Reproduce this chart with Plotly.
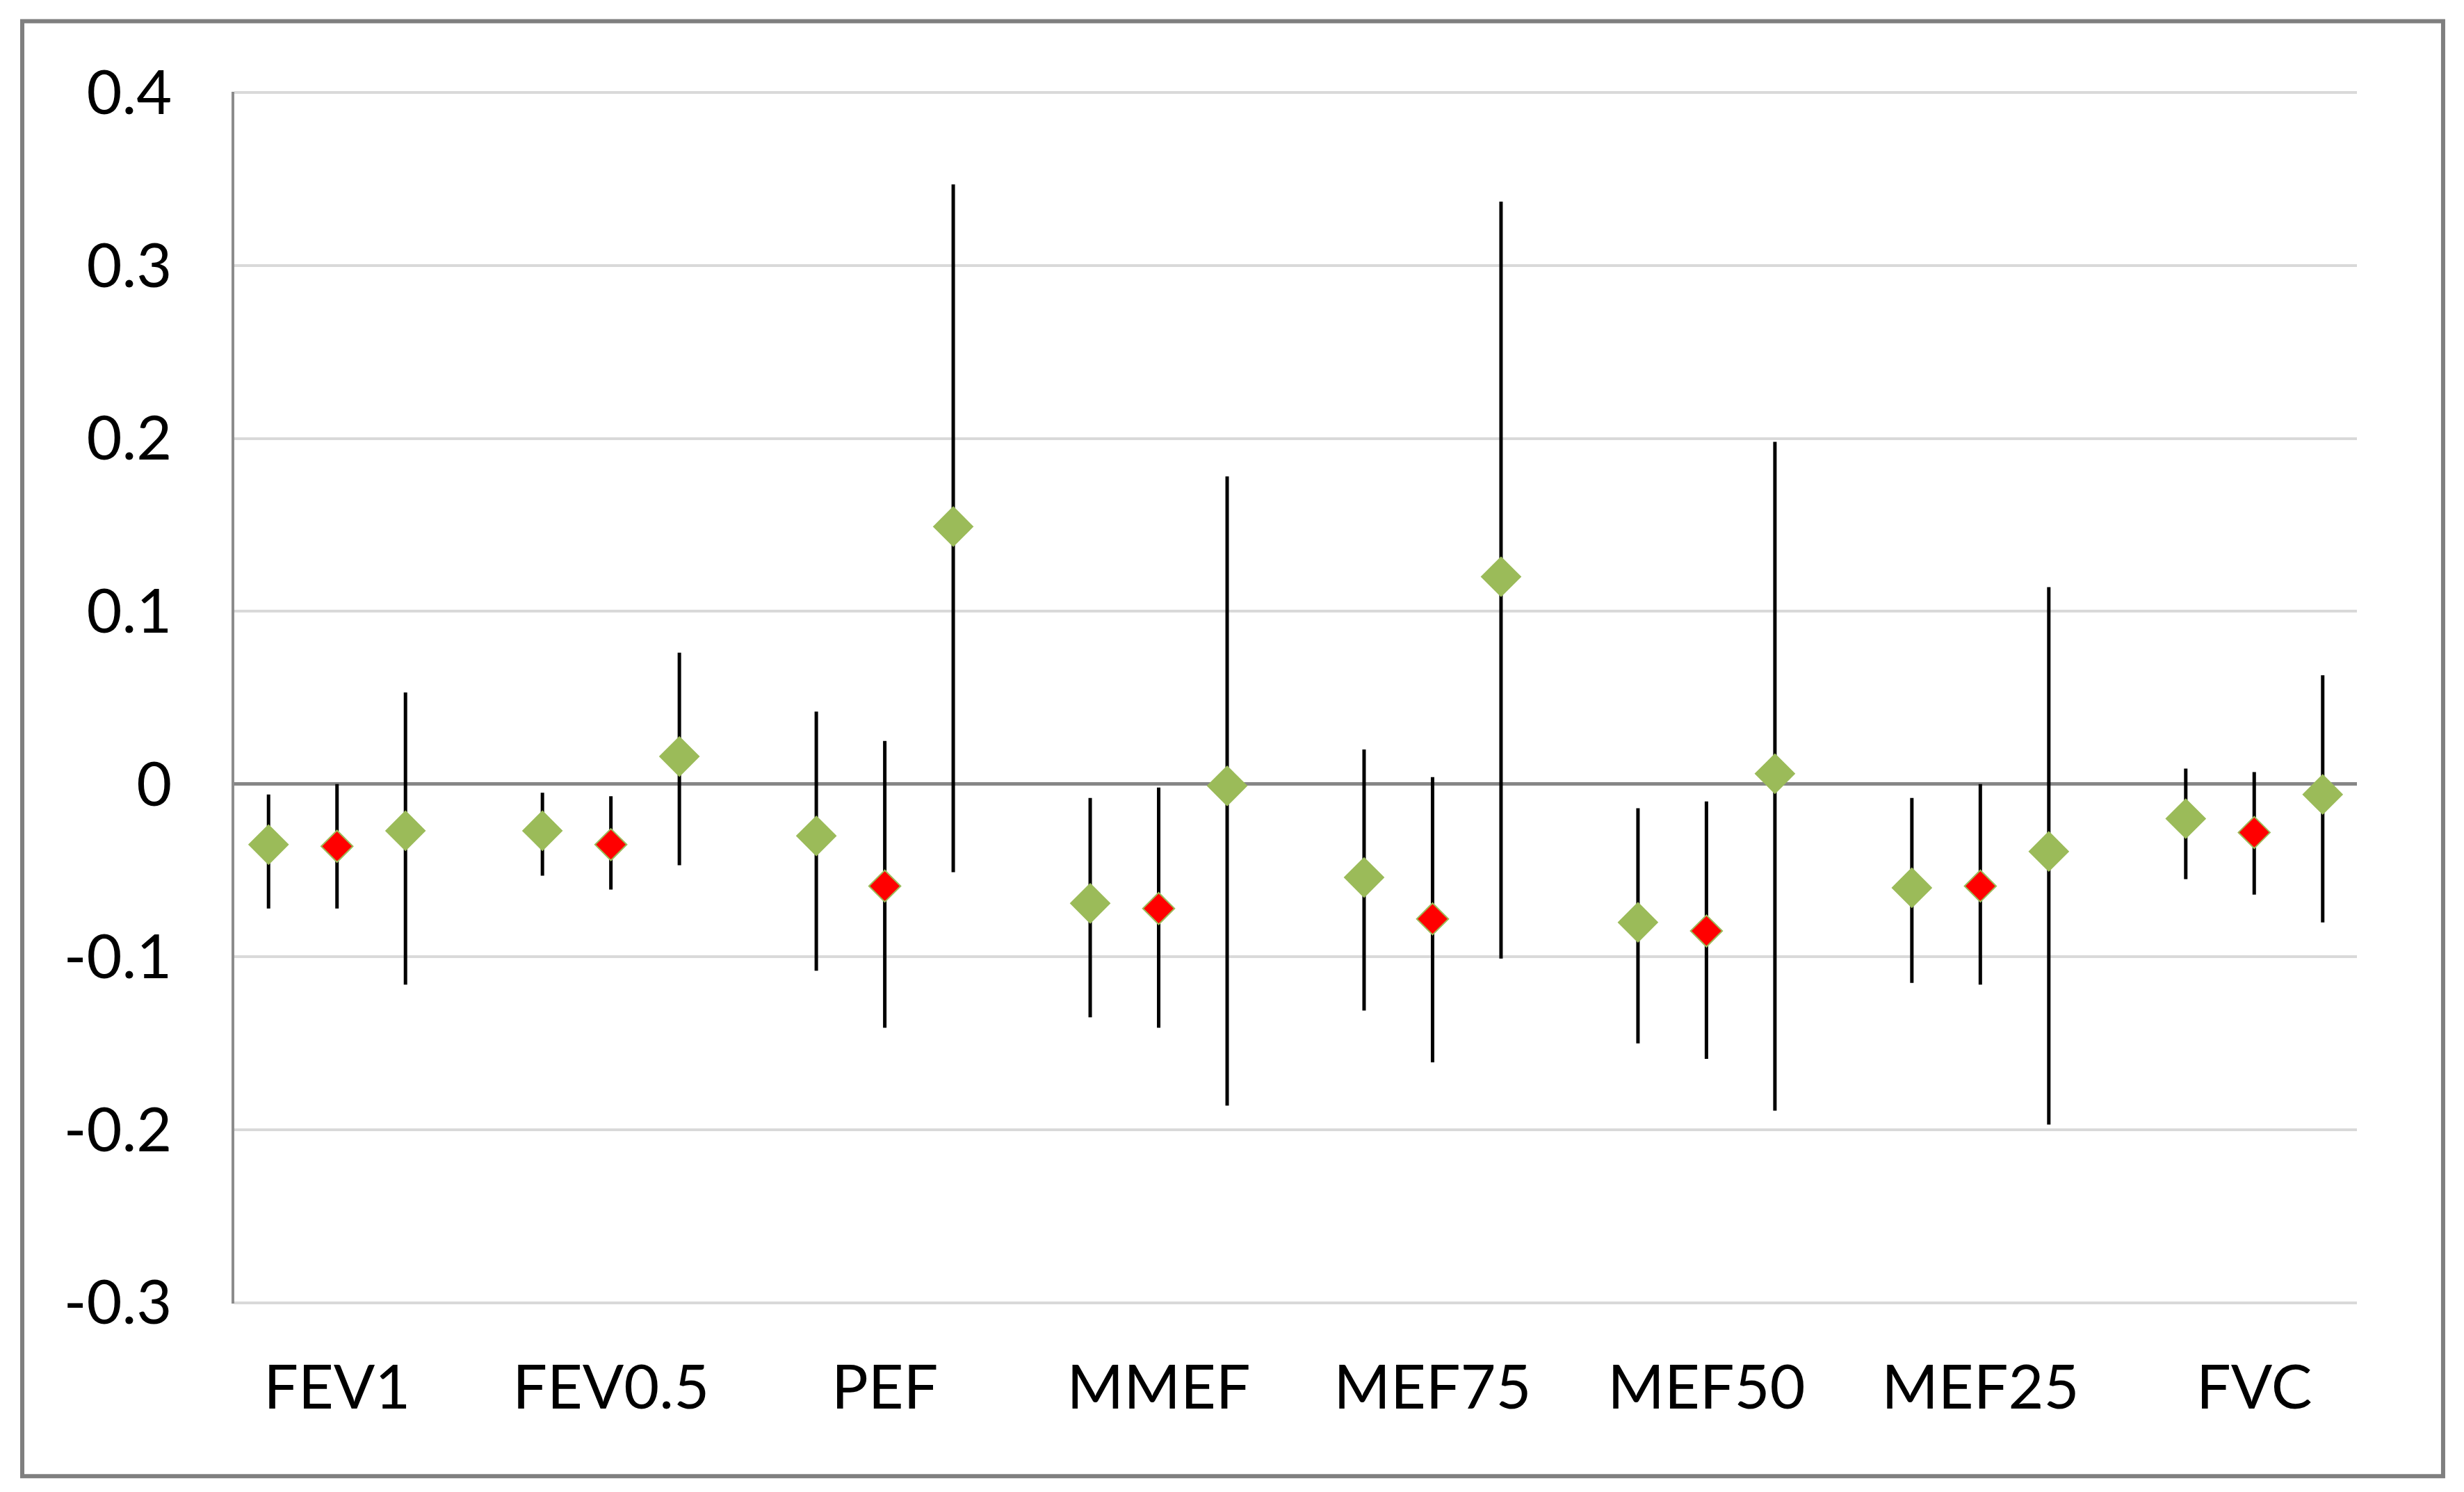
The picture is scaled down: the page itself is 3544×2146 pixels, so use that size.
import plotly.graph_objects as go

# spirometry parameters, three estimates each (green / red / green)
categories = ["FEV1", "FEV0.5", "PEF", "MMEF", "MEF75", "MEF50", "MEF25", "FVC"]

s1_est = [-0.035, -0.027, -0.030, -0.069, -0.054, -0.080, -0.060, -0.020]
s1_low = [-0.072, -0.053, -0.108, -0.135, -0.131, -0.150, -0.115, -0.055]
s1_high = [-0.006, -0.005, 0.042, -0.008, 0.020, -0.014, -0.008, 0.009]

s2_est = [-0.036, -0.035, -0.059, -0.072, -0.078, -0.085, -0.059, -0.028]
s2_low = [-0.072, -0.061, -0.141, -0.141, -0.161, -0.159, -0.116, -0.064]
s2_high = [0.000, -0.007, 0.025, -0.002, 0.004, -0.010, 0.000, 0.007]

s3_est = [-0.027, 0.016, 0.149, -0.001, 0.120, 0.006, -0.039, -0.006]
s3_low = [-0.116, -0.047, -0.051, -0.186, -0.101, -0.189, -0.197, -0.080]
s3_high = [0.053, 0.076, 0.347, 0.178, 0.337, 0.198, 0.114, 0.063]

y_ticks = [0.4, 0.3, 0.2, 0.1, 0, -0.1, -0.2, -0.3]
y_labels = ["0.4", "0.3", "0.2", "0.1", "0", "-0.1", "-0.2", "-0.3"]

GREEN = "#9BBB59"
RED = "#FF0000"

# each group takes 4 slots on the x axis: 3 points + a gap
centers = [4 * i + 2 for i in range(len(categories))]


def add_series(fig, offset, est, low, high, color, size):
    fig.add_trace(
        go.Scatter(
            x=[c + offset for c in centers],
            y=est,
            mode="markers",
            marker=dict(symbol="diamond", size=size, color=color,
                        line=dict(color=GREEN, width=2)),
            error_y=dict(
                type="data",
                symmetric=False,
                array=[h - e for h, e in zip(high, est)],
                arrayminus=[e - l for e, l in zip(est, low)],
                color="black",
                thickness=5,
                width=0,
            ),
            showlegend=False,
        )
    )


fig = go.Figure()
add_series(fig, -1, s1_est, s1_low, s1_high, GREEN, 43)
add_series(fig, 0, s2_est, s2_low, s2_high, RED, 35)
add_series(fig, 1, s3_est, s3_low, s3_high, GREEN, 43)

fig.update_layout(
    width=3544,
    height=2146,
    # the page body adds 8px, so margins are shifted to compensate
    margin=dict(l=329, r=162, t=124, b=279),
    paper_bgcolor="white",
    plot_bgcolor="white",
    font=dict(family="Lato", size=88, color="black"),
    xaxis=dict(
        range=[0.5, 31.5],
        tickvals=centers,
        ticktext=categories,
        showgrid=False,
        zeroline=False,
        showline=False,
        ticks="",
        ticklabelstandoff=62,
    ),
    yaxis=dict(
        range=[-0.3006, 0.4006],
        tickvals=y_ticks,
        ticktext=y_labels,
        showgrid=True,
        gridcolor="#D9D9D9",
        gridwidth=4,
        zeroline=True,
        zerolinecolor="#868686",
        zerolinewidth=5,
        showline=True,
        linecolor="#8C8C8C",
        linewidth=4,
        ticks="",
        ticklabelstandoff=68,
    ),
    shapes=[
        dict(
            type="rect",
            xref="paper",
            yref="paper",
            x0=-0.0999,
            x1=1.0406,
            y0=-0.1424,
            y1=1.0582,
            line=dict(color="#7F7F7F", width=6),
            layer="below",
        )
    ],
)

fig.write_html("out.html")
